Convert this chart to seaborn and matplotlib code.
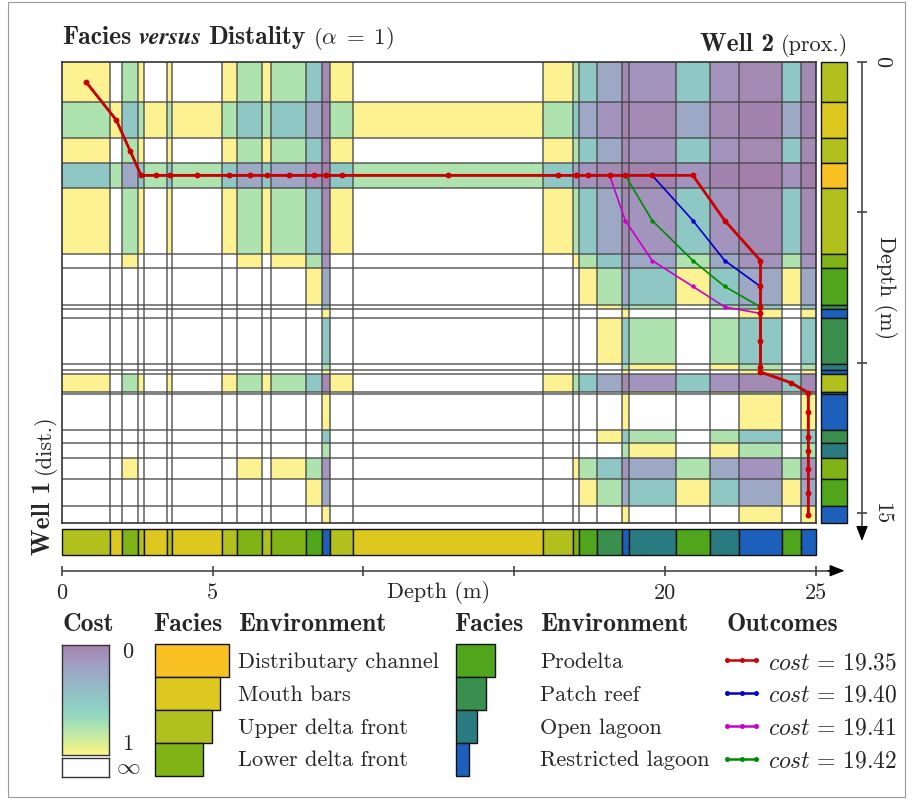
import matplotlib
matplotlib.use("Agg")
import numpy as np
import matplotlib.pyplot as plt
from matplotlib.patches import Rectangle
import seaborn as sns

# ---------------------------------------------------------------------------
# Data
# ---------------------------------------------------------------------------
FACIES_NAMES = ["Distributary channel", "Mouth bars", "Upper delta front",
                "Lower delta front", "Prodelta", "Patch reef",
                "Open lagoon", "Restricted lagoon"]
FACIES_COLORS = ["#f9c222", "#ddc820", "#b2c01e", "#80b316",
                 "#4fa61a", "#3a8f4e", "#2a7b80", "#1c60bb"]
FACIES_BAR_LEN = [8.5, 7.5, 6.5, 5.5, 4.5, 3.5, 2.5, 1.5]

# Well 1 (distal): interval boundaries (m) and facies code (1..8)
WELL1_EDGES = [0.0, 1.61, 2.01, 2.52, 2.74, 3.50, 3.67, 5.30, 5.82, 6.65,
               6.94, 8.11, 8.64, 8.90, 9.65, 15.94, 16.96, 17.16, 17.75,
               18.57, 18.79, 20.35, 21.49, 22.46, 23.86, 24.49, 25.0]
WELL1_FACIES = [3, 2, 4, 3, 2, 3, 2, 3, 4, 3, 4, 5, 8, 3, 2, 3, 4, 5, 6,
                8, 7, 5, 7, 8, 5, 8]

# Well 2 (proximal)
WELL2_EDGES = [0.0, 1.34, 2.54, 3.37, 4.18, 6.37, 6.84, 8.09, 8.20, 8.52,
               10.03, 10.24, 10.37, 10.96, 11.03, 12.23, 12.67, 13.17,
               13.86, 14.77, 15.33]
WELL2_FACIES = [3, 2, 3, 1, 3, 4, 5, 6, 8, 6, 7, 8, 3, 7, 8, 6, 7, 4, 5, 8]

# cost of a match when well 1 is k facies steps more distal than well 2
# (negative shift -> infinite cost, left blank)
COST_BY_SHIFT = [1.0, 0.75, 0.5, 0.25, 0.12, 0.06, 0.02, 0.0]

# correlation paths as (well 1 interval, well 2 interval) pairs
HEAD = [(0, 0), (1, 1), (2, 2), (3, 3), (4, 3), (5, 3), (6, 3), (7, 3),
        (8, 3), (9, 3), (10, 3), (11, 3), (12, 3), (13, 3), (14, 3),
        (15, 3), (16, 3), (17, 3), (18, 3)]
TAIL = [(23, 8), (23, 9), (23, 10), (23, 11), (24, 12), (25, 13), (25, 14),
        (25, 15), (25, 16), (25, 17), (25, 18), (25, 19)]
RED_PATH = HEAD + [(19, 3), (20, 3), (21, 3), (22, 4), (23, 5), (23, 6),
                   (23, 7)] + TAIL
BLUE_PATH = HEAD + [(19, 3), (20, 3), (21, 4), (22, 5), (23, 6),
                    (23, 7)] + TAIL
MAGENTA_PATH = HEAD + [(19, 4), (20, 5), (21, 6), (22, 7)] + TAIL
GREEN_PATH = HEAD + [(19, 3), (20, 4), (21, 5), (22, 6), (23, 7)] + TAIL

OUTCOME_PATHS = [RED_PATH, BLUE_PATH, MAGENTA_PATH, GREEN_PATH]
OUTCOME_COSTS = [19.35, 19.40, 19.41, 19.42]
OUTCOME_COLORS = ["#cc0000", "#0000cc", "#cc00cc", "#008c00"]

DEPTH_TICKS_W1 = [0, 5, 10, 15, 20, 25]
DEPTH_LABELS_W1 = ["0", "5", "", "", "20", "25"]
DEPTH_TICKS_W2 = [0, 5, 10, 15]
DEPTH_LABELS_W2 = ["0", "", "", "15"]

# ---------------------------------------------------------------------------
W, H = 913, 800
FS = 16
FS_BOLD = 18.5


def px_rect(x0, y0, x1, y1):
    return [x0 / W, 1 - y1 / H, (x1 - x0) / W, (y1 - y0) / H]


sns.set_theme(style="white")
plt.rcParams["font.family"] = ["cmr10", "DejaVu Serif"]
plt.rcParams["mathtext.fontset"] = "cm"
plt.rcParams["axes.unicode_minus"] = False
plt.rcParams["axes.formatter.use_mathtext"] = True

BOLD = dict(family="cmb10", fontsize=FS_BOLD)
REG = dict(family="cmr10", fontsize=FS)
MATH = dict(fontsize=FS + 0.5)
BOLD_IT = dict(family="STIXGeneral", weight="bold", style="italic",
               fontsize=FS + 1.5)

fig = plt.figure(figsize=(W / 100, H / 100), dpi=100)
renderer = fig.canvas.get_renderer()

w1 = np.array(WELL1_EDGES)
w2 = np.array(WELL2_EDGES)
f1 = np.array(WELL1_FACIES)
f2 = np.array(WELL2_FACIES)
mid1 = (w1[:-1] + w1[1:]) / 2
mid2 = (w2[:-1] + w2[1:]) / 2

shift = f1[None, :] - f2[:, None]
cost = np.where(shift >= 0, np.take(COST_BY_SHIFT, np.clip(shift, 0, 7)), np.nan)
cmap = sns.color_palette("viridis", as_cmap=True)

# --- cost matrix -----------------------------------------------------------
ax = fig.add_axes(px_rect(61.7, 61.7, 816, 523.3))
ax.pcolormesh(w1, w2, np.ma.masked_invalid(cost), cmap=cmap, vmin=0, vmax=1,
              alpha=0.5, antialiased=False, shading="flat")
for e in w1[1:-1]:
    ax.axvline(e, color="#444444", lw=1.1, alpha=0.85, zorder=2)
for e in w2[1:-1]:
    ax.axhline(e, color="#444444", lw=1.1, alpha=0.85, zorder=2)

# paths: red drawn last so it sits on top
for k in [1, 2, 3, 0]:
    path = OUTCOME_PATHS[k]
    xs = [mid1[i] for i, j in path]
    ys = [mid2[j] for i, j in path]
    big = k == 0
    sns.lineplot(x=xs, y=ys, ax=ax, sort=False, estimator=None,
                 color=OUTCOME_COLORS[k], lw=2.0 if big else 1.2,
                 marker="o", markersize=4.2 if big else 3.2,
                 markeredgewidth=0, zorder=5 if big else 4)
ax.set_xlim(0, w1[-1])
ax.set_ylim(w2[-1], 0)
ax.set_xticks([])
ax.set_yticks([])
ax.set_xlabel("")
ax.set_ylabel("")
for s in ax.spines.values():
    s.set_color("#333333")
    s.set_linewidth(1.2)

# --- well columns ----------------------------------------------------------
ax_w2 = fig.add_axes(px_rect(821.3, 61.7, 846.7, 523.3))
bars = ax_w2.barh(w2[:-1], width=1, height=np.diff(w2), left=0, align="edge",
                  color=[FACIES_COLORS[f - 1] for f in f2],
                  edgecolor="#111111", linewidth=1.0)
for b in bars:
    b.set_clip_on(False)
ax_w2.set_xlim(0, 1)
ax_w2.set_ylim(w2[-1], 0)
ax_w2.set_axis_off()

ax_w1 = fig.add_axes(px_rect(61.7, 529, 816, 555))
bars = ax_w1.bar(w1[:-1], height=1, width=np.diff(w1), bottom=0, align="edge",
                 color=[FACIES_COLORS[f - 1] for f in f1],
                 edgecolor="#111111", linewidth=1.0)
for b in bars:
    b.set_clip_on(False)
ax_w1.set_xlim(0, w1[-1])
ax_w1.set_ylim(0, 1)
ax_w1.set_axis_off()

# --- depth axes with arrows -------------------------------------------------
ARROW = dict(arrowstyle="-|>,head_length=0.9,head_width=0.35", color="black",
             lw=1.0, mutation_scale=10, shrinkA=0, shrinkB=0)

ax_b = fig.add_axes(px_rect(61.7, 560, 816, 605))
ax_b.set_xlim(0, 25)
ax_b.set_ylim(605, 560)
ax_b.set_axis_off()
ax_b.plot([0, 25.6], [570.7, 570.7], color="#555555", lw=1.3,
          solid_capstyle="butt", clip_on=False)
ax_b.annotate("", xy=(25.95, 570.7), xytext=(25.4, 570.7), arrowprops=ARROW,
              annotation_clip=False)
ax_b.vlines(DEPTH_TICKS_W1, 566, 575.5, color="#444444", lw=1.2, clip_on=False)
for t, lab in zip(DEPTH_TICKS_W1, DEPTH_LABELS_W1):
    ax_b.text(t, 593, lab, ha="center", va="center", **REG)
ax_b.text(12.5, 593, "Depth (m)", ha="center", va="center", **REG)

ax_r = fig.add_axes(px_rect(850, 61.7, 905, 523.3))
ax_r.set_xlim(850, 905)
ax_r.set_ylim(w2[-1], 0)
ax_r.set_axis_off()
ax_r.plot([862, 862], [0, 15.55], color="#555555", lw=1.3,
          solid_capstyle="butt", clip_on=False)
ax_r.annotate("", xy=(862, 15.92), xytext=(862, 15.45), arrowprops=ARROW,
              annotation_clip=False)
ax_r.hlines(DEPTH_TICKS_W2, 857, 867, color="#444444", lw=1.2, clip_on=False)
for t, lab in zip(DEPTH_TICKS_W2, DEPTH_LABELS_W2):
    ax_r.text(882, t, lab, ha="center", va="center", rotation=-90, **REG)
ax_r.text(885, 7.5, "Depth (m)", ha="center", va="center", rotation=-90,
          **REG)


# --- mixed-style text helper -------------------------------------------------
def text_run(x, y, parts, align="left", vertical=False, gap=7):
    texts = []
    for s, kw in parts:
        t = fig.text(0, 0, s, rotation=90 if vertical else 0,
                     rotation_mode="anchor", ha="left", va="baseline", **kw)
        texts.append(t)
    sizes = []
    for t in texts:
        bb = t.get_window_extent(renderer)
        sizes.append(bb.height if vertical else bb.width)
    total = sum(sizes) + gap * (len(texts) - 1)
    pos = x - total if align == "right" else (y if vertical else x)
    for t, sz in zip(texts, sizes):
        if vertical:
            t.set_position((x / W, 1 - pos / H))
            pos -= sz + gap
        else:
            t.set_position((pos / W, 1 - y / H))
            pos += sz + gap


text_run(62, 44, [("Facies", BOLD), ("versus", BOLD_IT),
                  ("Distality", BOLD), (r"$(\alpha\;=\;1)$", MATH)])
text_run(848, 51, [("Well 2", BOLD), ("(prox.)", REG)], align="right")
text_run(50, 555, [("Well 1", BOLD), ("(dist.)", REG)], vertical=True)

# --- legend: cost ------------------------------------------------------------
HEAD_Y = 631
fig.text(62 / W, 1 - HEAD_Y / H, "Cost", va="baseline", **BOLD)
ax_cb = fig.add_axes(px_rect(61.7, 645, 109.3, 755))
ax_cb.imshow(np.linspace(0, 1, 256)[:, None], cmap=cmap, alpha=0.5,
             aspect="auto", vmin=0, vmax=1)
ax_cb.set_xticks([])
ax_cb.set_yticks([])
for s in ax_cb.spines.values():
    s.set_color("#333333")
    s.set_linewidth(1.0)
ax_inf = fig.add_axes(px_rect(61.7, 758.3, 109.3, 776.7))
ax_inf.set_xticks([])
ax_inf.set_yticks([])
ax_inf.set_facecolor("white")
for s in ax_inf.spines.values():
    s.set_color("#333333")
    s.set_linewidth(1.0)
fig.text(128 / W, 1 - 652 / H, "0", ha="center", va="center", **REG)
fig.text(128 / W, 1 - 744 / H, "1", ha="center", va="center", **REG)
fig.text(128 / W, 1 - 767 / H, r"$\infty$", ha="center", va="center",
         fontsize=FS + 1)

# --- legend: facies ----------------------------------------------------------
ROW_H = (775.7 - 644) / 4
for g, (x_bar, x_lab) in enumerate([(155, 238), (455.7, 540)]):
    fig.text((x_bar - 2) / W, 1 - HEAD_Y / H, "Facies", va="baseline", **BOLD)
    fig.text(x_lab / W, 1 - HEAD_Y / H, "Environment", va="baseline", **BOLD)
    idx = list(range(4 * g, 4 * g + 4))
    axl = fig.add_axes(px_rect(x_bar, 644, x_bar + 90, 775.7))
    bars = axl.barh(np.arange(4), [FACIES_BAR_LEN[i] for i in idx], height=1,
                    left=0, align="edge",
                    color=[FACIES_COLORS[i] for i in idx],
                    edgecolor="#111111", linewidth=1.0)
    for b in bars:
        b.set_clip_on(False)
    axl.set_xlim(0, 90 / 8.7)
    axl.set_ylim(4, 0)
    axl.set_axis_off()
    for r, i in enumerate(idx):
        yc = 644 + (r + 0.5) * ROW_H - 0.5
        fig.text(x_lab / W, 1 - yc / H, FACIES_NAMES[i], va="center_baseline",
                 **REG)

# --- legend: outcomes --------------------------------------------------------
fig.text(726 / W, 1 - HEAD_Y / H, "Outcomes", va="baseline", **BOLD)
ax_o = fig.add_axes(px_rect(727, 644, 756, 775.7))
for r, (c, col) in enumerate(zip(OUTCOME_COSTS, OUTCOME_COLORS)):
    ax_o.plot([0, 0.5, 1], [r + 0.5] * 3, color=col, lw=1.8, marker="o",
              markersize=3.6, markeredgewidth=0, clip_on=False)
    yc = 644 + (r + 0.5) * ROW_H
    fig.text(768 / W, 1 - yc / H, rf"$cost\,=\,{c:.2f}$",
             va="center_baseline", fontsize=FS + 1)
ax_o.set_xlim(0, 1)
ax_o.set_ylim(4, 0)
ax_o.set_axis_off()

# thin frame around the figure
fig.patches.append(Rectangle((8 / W, 3 / H), 897 / W, 795 / H,
                             transform=fig.transFigure, fill=False,
                             edgecolor="#999999", lw=0.8))

fig.savefig("out.png", dpi=100)
